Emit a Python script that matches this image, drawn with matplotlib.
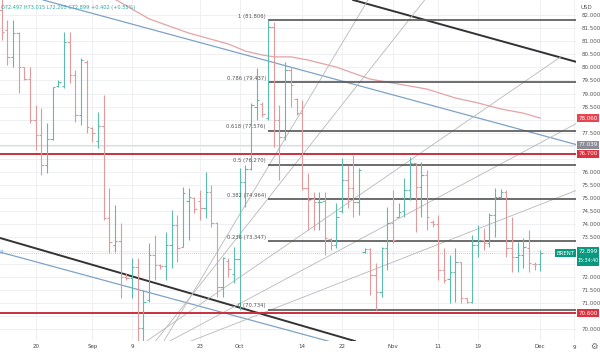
import matplotlib.pyplot as plt
from matplotlib.patches import Rectangle

# ---- daily OHLC bars (incl. short Sunday sessions), bar index 0 = Aug 13 ----
opens = [82.20, 81.43, 80.41, 81.30, 80.00, 79.55, 77.99, 77.41, 76.27, 77.25,
         79.30, 79.30, 80.98, 79.71, 78.18, 80.22, 77.70, 77.20, 77.76, 74.23,
         73.20, 73.38, 72.00, 71.95, 72.38, 70.03, 71.10, 72.83, 72.45, 72.40,
         73.21, 73.97, 73.15, 74.90, 75.00, 74.90, 74.62, 75.25, 74.05, 71.60,
         72.60, 72.10, 72.68, 75.60, 76.10, 78.50, 78.60, 78.06, 81.55, 77.99,
         77.35, 79.90, 78.80, 78.25, 75.40, 74.95, 74.85, 74.90, 73.45, 73.20,
         74.50, 75.70, 75.38, 74.87, 72.95, 73.05, 72.06, 71.43, 73.08, 74.04,
         74.30, 74.50, 75.31, 76.33, 75.44, 75.89, 74.10, 74.00, 72.26, 71.90,
         72.19, 72.57, 71.17, 71.05, 73.21, 73.40, 73.27, 74.36, 75.06, 75.25,
         73.08, 72.77, 72.83, 73.10, 72.50, 72.497]
highs = [82.60, 81.81, 81.81, 81.36, 80.02, 80.02, 78.56, 78.43, 77.86, 79.26,
         79.50, 81.36, 81.36, 79.90, 80.34, 80.28, 77.73, 78.30, 78.94, 75.38,
         74.74, 74.04, 72.14, 72.70, 72.70, 71.49, 73.29, 73.59, 72.50, 73.71,
         74.55, 74.36, 75.43, 75.39, 75.04, 75.31, 76.00, 75.50, 74.09, 72.75,
         72.71, 73.13, 76.15, 76.27, 78.64, 79.97, 78.68, 81.806, 81.74, 78.56,
         80.22, 80.02, 78.83, 78.75, 75.95, 75.25, 75.25, 75.25, 73.47, 74.80,
         76.52, 76.27, 76.65, 76.14, 73.08, 73.08, 72.51, 73.15, 74.68, 75.31,
         74.80, 75.76, 76.59, 76.33, 76.40, 76.08, 74.17, 74.36, 73.08, 72.83,
         73.08, 72.57, 71.20, 73.59, 73.97, 73.85, 74.42, 75.38, 75.35, 75.31,
         74.29, 73.34, 73.47, 73.79, 72.55, 73.015]
lows = [81.04, 80.09, 80.02, 79.01, 79.52, 77.86, 76.84, 75.89, 75.95, 77.22,
        79.25, 79.20, 79.39, 77.92, 77.80, 77.48, 77.16, 76.91, 74.17, 72.89,
        72.96, 71.17, 71.87, 71.17, 69.45, 69.55, 71.03, 71.87, 72.30, 71.87,
        72.33, 72.56, 73.13, 73.40, 74.43, 74.17, 74.24, 73.90, 71.22, 71.22,
        71.99, 71.76, 70.734, 74.66, 76.08, 77.99, 78.10, 77.99, 76.97, 75.69,
        77.22, 78.50, 78.18, 75.31, 73.79, 73.79, 73.79, 72.83, 73.02, 73.08,
        74.45, 74.61, 74.29, 74.36, 72.89, 71.30, 70.73, 71.24, 72.26, 73.27,
        74.29, 74.29, 74.93, 73.72, 74.29, 73.79, 73.91, 71.87, 71.75, 70.98,
        71.05, 70.98, 70.98, 70.98, 72.77, 73.02, 73.15, 73.53, 75.00, 72.77,
        72.19, 72.19, 72.32, 72.19, 72.25, 72.205]
closes = [81.36, 80.41, 81.30, 80.02, 79.55, 77.99, 77.41, 76.27, 77.25, 79.24,
          79.45, 80.98, 79.71, 78.18, 80.28, 77.73, 77.50, 77.76, 74.23, 73.34,
          73.38, 72.00, 71.95, 72.38, 70.03, 71.04, 72.83, 72.45, 72.40, 73.21,
          73.97, 73.10, 75.20, 75.06, 74.60, 74.62, 75.25, 74.05, 71.60, 72.71,
          72.30, 72.68, 75.60, 76.10, 78.56, 78.75, 78.20, 81.55, 77.99, 77.35,
          79.90, 79.33, 78.25, 75.38, 74.93, 74.85, 74.87, 73.47, 73.21, 74.29,
          75.70, 75.38, 74.87, 76.08, 73.05, 72.06, 71.43, 73.08, 74.04, 73.40,
          74.49, 75.31, 76.33, 75.44, 75.89, 74.29, 74.00, 72.26, 71.87, 72.19,
          72.57, 71.17, 71.05, 73.21, 73.40, 73.27, 74.36, 75.06, 75.25, 73.08,
          72.77, 72.83, 73.15, 72.51, 72.497, 72.899]

# moving average (pink) sampled at bar indices
ma_idx = [20, 26, 33, 40, 43, 46, 48, 51, 54, 59, 65, 70, 75, 80, 84, 88, 92, 95]
ma_val = [82.60, 81.85, 81.31, 80.89, 80.62, 80.47, 80.40, 80.40, 80.28, 80.01,
          79.55, 79.36, 79.17, 78.83, 78.64, 78.41, 78.25, 78.06]

# fibonacci retracement
fib_ratio = ['1', '0.786', '0.618', '0.5', '0.382', '0.236', '0']
fib_price = [81.806, 79.437, 77.576, 76.270, 74.964, 73.347, 70.734]
fib_start = 47

# drawn trend lines: (idx0, price0, idx1, price1)
blue_lines = [(7.3, 82.573, 101.5, 77.039), (-0.3, 72.94, 57.9, 69.52)]
dark_lines = [(62.0, 82.573, 101.5, 80.20), (-0.3, 73.48, 62.3, 69.54)]
fan_lines = [(28.5, 69.50, 64.6, 82.573), (27.0, 69.50, 74.6, 82.573),
             (25.3, 69.50, 98.8, 80.43), (29.3, 69.50, 101.5, 77.87),
             (31.6, 69.39, 101.5, 75.31)]
red_levels = [76.70, 70.60]

tick_idx = [6, 16, 23, 35, 42, 53, 60, 69, 77, 84, 95, 101]
tick_lbl = ['20', 'Sep', '9', '23', 'Oct', '14', '22', 'Nov', '11', '19', 'Dec', '9']

GREEN = '#5dbcad'
RED = '#e09a9c'

fig = plt.figure(figsize=(6, 3.52), dpi=100)
ax = fig.add_axes([0, 11 / 352, 576 / 600, 341 / 352])
ax.set_xlim(-0.3, 101.3)
ax.set_ylim(69.543, 82.573)

# grid
for t in tick_idx:
    ax.axvline(t, color='#eef0f4', lw=0.7, zorder=0)
p = 70.0
while p <= 82.01:
    ax.axhline(p, color='#eef0f4', lw=0.7, zorder=0)
    p += 0.5

# ohlc bars
tk = 0.42
for i in range(len(opens)):
    c = GREEN if closes[i] >= opens[i] else RED
    ax.vlines(i, lows[i], highs[i], color=c, lw=0.8, zorder=3)
    ax.hlines(opens[i], i - tk, i, color=c, lw=0.8, zorder=3)
    ax.hlines(closes[i], i, i + tk, color=c, lw=0.8, zorder=3)

ax.plot(ma_idx, ma_val, color='#e4a3a6', lw=0.9, zorder=2)

for x0, y0, x1, y1 in blue_lines:
    ax.plot([x0, x1], [y0, y1], color='#7fa3c6', lw=0.9, zorder=2)
for x0, y0, x1, y1 in dark_lines:
    ax.plot([x0, x1], [y0, y1], color='#333333', lw=1.4, zorder=2)
for x0, y0, x1, y1 in fan_lines:
    ax.plot([x0, x1], [y0, y1], color='#b8b8b8', lw=0.6, zorder=2)

for lv in red_levels:
    ax.axhline(lv, color='#c9303c', lw=1.4, zorder=2)
ax.axhline(77.039, color='#dcdcdc', lw=0.8, zorder=1)
ax.axhline(72.899, color='#8fd0c4', lw=0.6, ls=(0, (1, 1.5)), zorder=1)

for r, v in zip(fib_ratio, fib_price):
    ax.hlines(v, fib_start, 101.3, color='#555555', lw=1.2, zorder=2)
    ax.text(fib_start - 0.4, v + 0.06, f'{r} ({v:.3f})', ha='right', va='bottom',
            fontsize=3.8, color='#555555', zorder=4)

ax.set_xticks(tick_idx[:-1])
ax.set_xticklabels(tick_lbl[:-1])
ax.text(tick_idx[-1], -0.013, tick_lbl[-1], transform=ax.get_xaxis_transform(),
        ha='center', va='top', fontsize=4, color='#444444', clip_on=False)
ax.tick_params(axis='x', length=0, pad=2.5, labelsize=4, colors='#444444')

# price scale (labels hidden behind the coloured tags are left out)
ax.yaxis.tick_right()
yt = [70 + 0.5 * k for k in range(25)]
hidden = {70.5, 72.5, 73.0, 76.5, 77.0, 78.0}
ax.set_yticks(yt)
ax.set_yticklabels(['' if v in hidden else f'{v:.3f}' for v in yt])
ax.tick_params(axis='y', length=0, pad=4, labelsize=4, colors='#555555')
for s in ax.spines.values():
    s.set_visible(False)

# header
ax.text(0.002, 0.985, 'O72.497 H73.015 L72.205 C72.899 +0.402 (+0.55%)',
        transform=ax.transAxes, ha='left', va='top', fontsize=3.6, color='#26a69a')
ax.text(-0.3, 72.94, '7', ha='left', va='center', fontsize=4, color='#7fa3c6')

# axis price tags
yt_tr = ax.get_yaxis_transform()
tags = [(78.060, '78.060', '#ea4450'), (77.039, '77.039', '#8a8d96'),
        (76.700, '76.700', '#e0303e'), (70.600, '70.600', '#e0303e')]
for v, s, col in tags:
    ax.text(1.004, v, s, transform=yt_tr, ha='left', va='center', fontsize=4,
            color='white', clip_on=False, zorder=6,
            bbox=dict(boxstyle='square,pad=0.25', fc=col, ec='none'))

# last price tag with countdown
fig.patches.append(Rectangle((577 / 600, (352 - 266) / 352), 22 / 600, 19 / 352,
                             transform=fig.transFigure, fc='#089981', ec='none', zorder=5))
fig.text(588 / 600, (352 - 251.5) / 352, '72.899', ha='center', va='center',
         fontsize=4, color='white', zorder=6)
fig.text(588 / 600, (352 - 261) / 352, '15:34:40', ha='center', va='center',
         fontsize=3.4, color='white', zorder=6)
ax.text(0.998, 72.899, 'BRENT', transform=yt_tr, ha='right', va='center',
        fontsize=4, color='white', zorder=6,
        bbox=dict(boxstyle='square,pad=0.25', fc='#089981', ec='none'))
fig.text(0.967, 0.985, 'USD', ha='left', va='top', fontsize=4, color='#555555')
fig.text(0.99, 0.015, '\u2699', ha='center', va='center', fontsize=6, color='#666666')

plt.savefig('out.png', dpi=100)
